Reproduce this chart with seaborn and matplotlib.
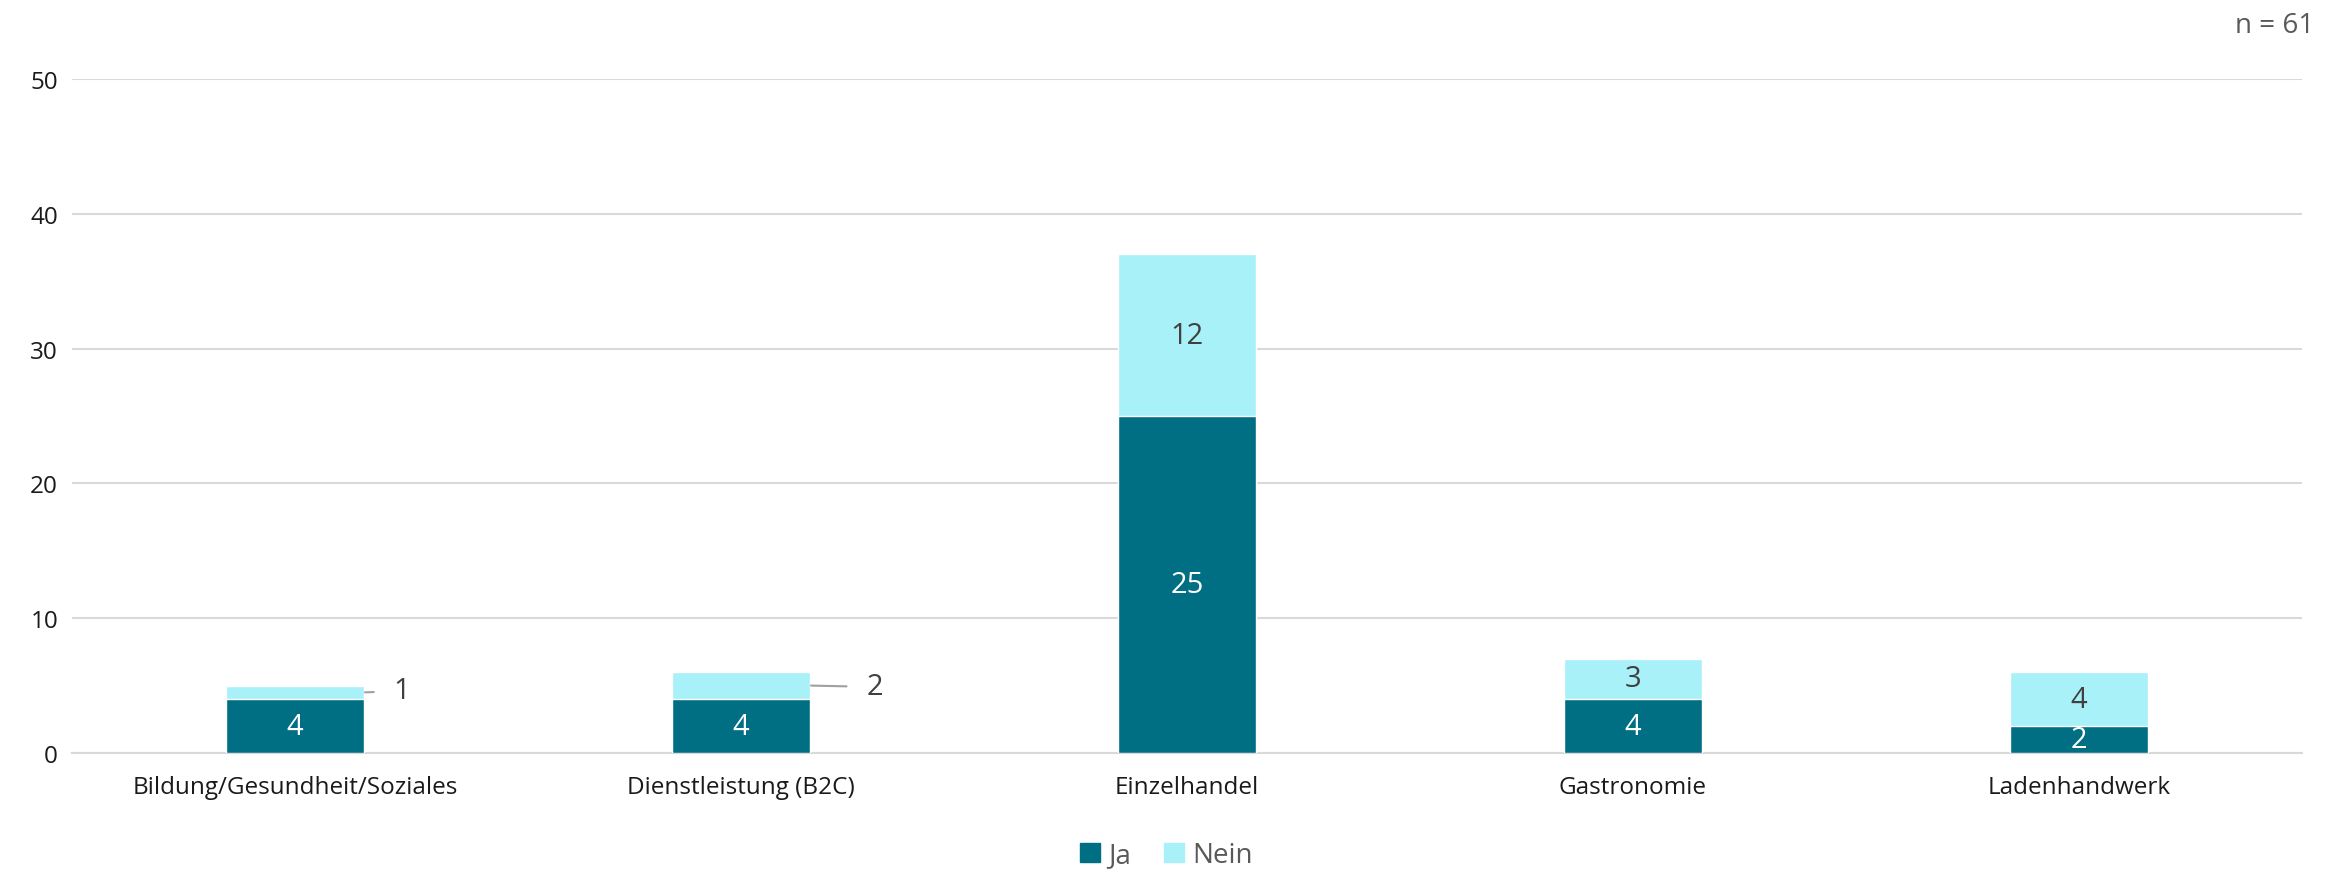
import matplotlib.pyplot as plt
import seaborn as sns
import pandas as pd

# Data
categories = ['Bildung/Gesundheit/Soziales', 'Dienstleistung (B2C)', 'Einzelhandel', 'Gastronomie', 'Ladenhandwerk']
ja = [4, 4, 25, 4, 2]
nein = [1, 2, 12, 3, 4]
n_total = 61

dark = '#006F83'
light = '#A9F1F8'

sns.set_theme(style='white')
plt.rcParams['font.family'] = ['Open Sans', 'DejaVu Sans']

df = pd.DataFrame({'category': categories, 'Ja': ja, 'Nein': nein})
df['total'] = df['Ja'] + df['Nein']

fig = plt.figure(figsize=(23.33, 8.7), dpi=100)
ax = fig.add_axes([72 / 2333, 1 - 754 / 870, 2230 / 2333, 674 / 870])

# stacked: total (light) behind, Ja (dark) in front
sns.barplot(data=df, x='category', y='total', color=light, width=0.31, ax=ax,
            saturation=1, zorder=2)
sns.barplot(data=df, x='category', y='Ja', color=dark, width=0.31, ax=ax,
            saturation=1, zorder=3)

ax.set_xlim(-0.5, 4.5)
ax.set_ylim(0, 50)
ax.set_yticks([0, 10, 20, 30, 40, 50])
ax.yaxis.grid(True, color='#D9D9D9', linewidth=1.5, zorder=0)
ax.set_axisbelow(True)
for s in ['top', 'right', 'left']:
    ax.spines[s].set_visible(False)
ax.spines['bottom'].set_color('#D9D9D9')
ax.spines['bottom'].set_linewidth(1.5)
ax.set_xlabel('')
ax.set_ylabel('')
ax.tick_params(axis='both', length=0, labelsize=17.5, labelcolor='#1a1a1a')
ax.tick_params(axis='x', pad=16)
ax.tick_params(axis='y', pad=10)

# labels inside Ja bars
for i, v in enumerate(ja):
    ax.text(i, v / 2, str(v), ha='center', va='center', color='white', fontsize=21)

# labels for Nein segments; small ones get a leader line outside
outside = {0: (0.24, 4.6), 1: (1.3, 4.9)}
for i, v in enumerate(nein):
    mid = ja[i] + v / 2
    if i in outside:
        tx, ty = outside[i]
        ax.annotate(str(v), xy=(i + 0.157, mid), xytext=(tx, ty),
                    ha='center', va='center', fontsize=21, color='#404040',
                    arrowprops=dict(arrowstyle='-', color='#A0A0A0', lw=1.5,
                                    shrinkA=12, shrinkB=0))
    else:
        ax.text(i, mid, str(v), ha='center', va='center', color='#404040', fontsize=21)

# legend
handles = [plt.Rectangle((0, 0), 1, 1, color=dark), plt.Rectangle((0, 0), 1, 1, color=light)]
fig.legend(handles, ['Ja', 'Nein'], loc='center', bbox_to_anchor=(0.5, 1 - 856 / 870),
           ncol=2, frameon=False, fontsize=20, labelcolor='#595959',
           handlelength=0.7, handleheight=0.7, handletextpad=0.3, columnspacing=1.2)

fig.text(2314 / 2333, 1 - 26 / 870, f'n = {n_total}', ha='right', va='center',
         fontsize=20, color='#595959')

plt.savefig('out.png', dpi=100)
plt.close()
